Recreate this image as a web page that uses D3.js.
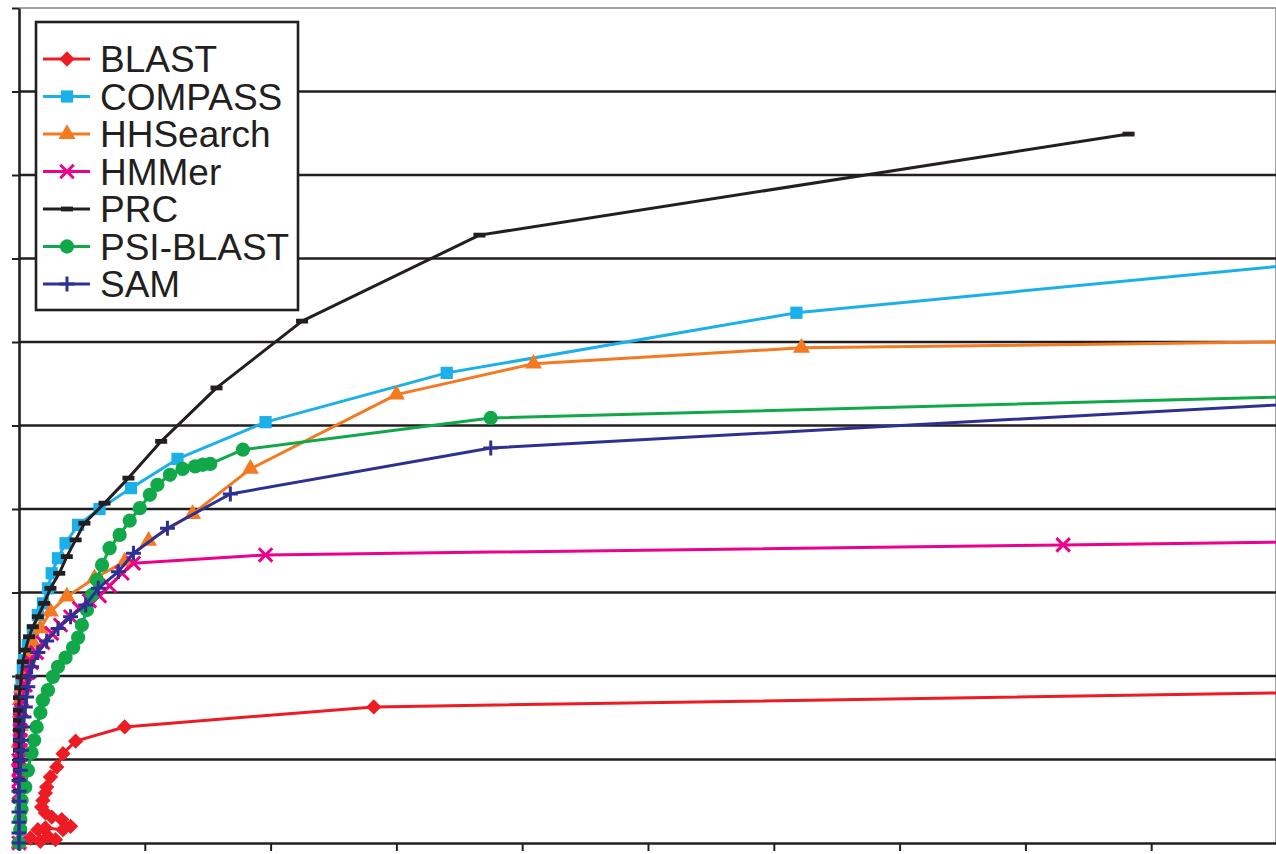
<!DOCTYPE html>
<html>
<head>
<meta charset="utf-8">
<script src="https://cdn.jsdelivr.net/npm/d3@7"></script>
<style>
  html, body { margin: 0; padding: 0; background: #fff; }
  svg { display: block; font-family: "Liberation Sans", Arial, Helvetica, sans-serif; }
</style>
</head>
<body>
<svg id="chart"></svg>
<script>
// series values, [x, y] in axis units (no tick labels are printed on the chart)
const blast = [
  [0, 0.02], [0.09, 0.06], [0.17, 0.02], [0.29, 0.04], [0.23, 0.08], [0.15, 0.16],
  [0.21, 0.18], [0.35, 0.16], [0.41, 0.2], [0.34, 0.28], [0.26, 0.31], [0.21, 0.36],
  [0.18, 0.43], [0.19, 0.51], [0.21, 0.6], [0.22, 0.67], [0.25, 0.79], [0.3, 0.91],
  [0.35, 1.07], [0.45, 1.22], [0.84, 1.39], [2.82, 1.63], [11.0, 1.82]
];
const compass = [
  [0, 0], [0, 0.99], [0, 1.2], [0, 1.4], [0, 1.56], [0.01, 1.71], [0.01, 1.83],
  [0.02, 1.95], [0.03, 2.07], [0.04, 2.19], [0.07, 2.37], [0.11, 2.55],
  [0.15, 2.73], [0.19, 2.87], [0.23, 3.05], [0.26, 3.23], [0.31, 3.41], [0.37, 3.59],
  [0.47, 3.81], [0.64, 4.0], [0.89, 4.25], [1.26, 4.6], [1.96, 5.04], [3.4, 5.63],
  [6.18, 6.35], [11.0, 7.05]
];
const hhsearch = [
  [0, 0], [0, 0.99], [0, 1.2], [0.01, 1.4], [0.01, 1.56], [0.01, 1.71], [0.02, 1.86],
  [0.04, 2.01], [0.07, 2.22], [0.11, 2.4], [0.17, 2.57],
  [0.25, 2.77], [0.38, 2.95], [0.6, 3.17], [0.84, 3.37], [1.03, 3.62], [1.38, 3.94],
  [1.84, 4.48], [3.0, 5.37], [4.09, 5.74], [6.22, 5.93], [11.0, 6.02]
];
const hmmer = [
  [0, 0], [0, 0.6], [0, 0.75], [0, 0.87], [0, 0.99], [0.01, 1.11], [0.01, 1.23],
  [0.01, 1.35], [0.01, 1.47], [0.02, 1.59], [0.02, 1.71], [0.05, 1.89], [0.07, 2.04],
  [0.1, 2.16], [0.14, 2.28], [0.19, 2.4], [0.26, 2.51], [0.33, 2.61], [0.41, 2.71],
  [0.48, 2.81], [0.56, 2.9], [0.64, 2.96], [0.72, 3.08], [0.82, 3.23], [0.91, 3.35],
  [1.96, 3.45], [8.3, 3.57], [11.0, 3.62]
];
const prc = [
  [0, 0], [0, 0.5], [0, 0.62], [0, 0.75], [0, 0.87], [0, 0.99], [0, 1.11], [0, 1.23],
  [0, 1.35], [0, 1.47], [0, 1.59], [0, 1.74], [0.01, 1.86], [0.02, 1.99],
  [0.03, 2.17], [0.05, 2.31], [0.08, 2.47], [0.11, 2.59], [0.15, 2.71], [0.2, 2.87],
  [0.25, 3.05], [0.32, 3.23], [0.38, 3.43], [0.45, 3.63], [0.52, 3.83], [0.68, 4.07],
  [0.87, 4.37], [1.13, 4.81], [1.57, 5.45], [2.25, 6.25], [3.66, 7.28], [8.82, 8.49]
];
const psiBlast = [
  [0, 0], [0.01, 0.16], [0.01, 0.28], [0.02, 0.4], [0.02, 0.51], [0.05, 0.67], [0.07, 0.87],
  [0.1, 1.08], [0.12, 1.23], [0.14, 1.39], [0.17, 1.56], [0.19, 1.71], [0.23, 1.83],
  [0.27, 1.99], [0.31, 2.11], [0.37, 2.22], [0.43, 2.34], [0.47, 2.46], [0.5, 2.61],
  [0.54, 2.79], [0.58, 2.97], [0.62, 3.15], [0.66, 3.33], [0.72, 3.53], [0.8, 3.69],
  [0.88, 3.86], [0.96, 4.01], [1.04, 4.17], [1.1, 4.29], [1.2, 4.41], [1.3, 4.48],
  [1.4, 4.51], [1.46, 4.53], [1.52, 4.54], [1.78, 4.71], [3.75, 5.09], [11.0, 5.38]
];
const sam = [
  [0, 0], [0, 0.12], [0, 0.25], [0, 0.37], [0, 0.5], [0, 0.62], [0, 0.75], [0.01, 0.87],
  [0.01, 0.99], [0.02, 1.11], [0.02, 1.23], [0.03, 1.39], [0.04, 1.51], [0.05, 1.63],
  [0.06, 1.75], [0.07, 1.87], [0.08, 1.99], [0.1, 2.11], [0.15, 2.28], [0.22, 2.42],
  [0.31, 2.57], [0.41, 2.71], [0.53, 2.85], [0.63, 3.05], [0.79, 3.25], [0.91, 3.47],
  [1.18, 3.77], [1.68, 4.18], [3.75, 4.73], [11.0, 5.33]
];

const seriesNames = ["BLAST", "COMPASS", "HHSearch", "HMMer", "PRC", "PSI-BLAST", "SAM"];
const xTicks = [0, 1, 2, 3, 4, 5, 6, 7, 8, 9, 10];
const yTicks = [0, 1, 2, 3, 4, 5, 6, 7, 8, 9, 10];

const series = [
  { name: "BLAST", values: blast, color: "#ed1c24", marker: "diamond" },
  { name: "COMPASS", values: compass, color: "#1cb0ea", marker: "square" },
  { name: "HHSearch", values: hhsearch, color: "#f47920", marker: "triangle" },
  { name: "HMMer", values: hmmer, color: "#ec008c", marker: "times" },
  { name: "PRC", values: prc, color: "#231f20", marker: "dash" },
  { name: "PSI-BLAST", values: psiBlast, color: "#11a84a", marker: "circle" },
  { name: "SAM", values: sam, color: "#2e3192", marker: "plus" },
];

const width = 1276, height = 854;
const margin = { top: 8, right: -1, bottom: 11, left: 19 };
const innerW = width - margin.left - margin.right;
const innerH = height - margin.top - margin.bottom;

const svg = d3.select("#chart").attr("width", width).attr("height", height);

const x = d3.scaleLinear().domain([0, 10]).range([0, innerW]);
const y = d3.scaleLinear().domain([0, 10]).range([innerH, 0]);

const g = svg.append("g").attr("transform", `translate(${margin.left},${margin.top})`);

svg.append("defs").append("clipPath").attr("id", "plot-clip")
  .append("rect").attr("x", -8).attr("y", -8).attr("width", innerW + 8).attr("height", innerH + 16);

// frame (top and right, light grey)
g.append("path")
  .attr("d", `M0,${y(10)}H${x(10) - 1}V${y(0)}`)
  .attr("fill", "none").attr("stroke", "#a0a0a0").attr("stroke-width", 2);

// horizontal grid lines
g.append("g").selectAll("line")
  .data(yTicks.filter(d => d > 0 && d < 10))
  .join("line")
  .attr("x1", 0).attr("x2", innerW)
  .attr("y1", d => y(d)).attr("y2", d => y(d))
  .attr("stroke", "#231f20").attr("stroke-width", 2.6);

// axes, tick marks only
const yAxis = g.append("g")
  .call(d3.axisLeft(y).tickValues(yTicks).tickSize(7).tickSizeOuter(0).tickFormat(""));
const xAxis = g.append("g").attr("transform", `translate(0,${innerH})`)
  .call(d3.axisBottom(x).tickValues(xTicks).tickSize(8).tickSizeOuter(0).tickFormat(""));
[yAxis, xAxis].forEach(a => {
  a.select(".domain").attr("stroke", "#231f20").attr("stroke-width", 2.6);
  a.selectAll(".tick line").attr("stroke", "#231f20").attr("stroke-width", 2);
});

// marker shapes
const symbolFor = {
  diamond: d3.symbol(d3.symbolDiamond2, 150),
  square: d3.symbol(d3.symbolSquare, 150),
  triangle: d3.symbol(d3.symbolTriangle, 125),
  times: d3.symbol(d3.symbolTimes, 120),
  plus: d3.symbol(d3.symbolPlus, 75),
  circle: d3.symbol(d3.symbolCircle, 160),
};
function drawMarker(sel, s) {
  if (s.marker === "dash") {
    sel.append("rect").attr("x", -6).attr("y", -2.4).attr("width", 12).attr("height", 4.8)
      .attr("fill", s.color);
  } else if (s.marker === "times" || s.marker === "plus") {
    sel.append("path").attr("d", symbolFor[s.marker]())
      .attr("fill", "none").attr("stroke", s.color).attr("stroke-width", 3);
  } else {
    sel.append("path").attr("d", symbolFor[s.marker]()).attr("fill", s.color);
  }
}

const line = d3.line().x(d => x(d[0])).y(d => y(d[1]));

const plot = g.append("g").attr("clip-path", "url(#plot-clip)");
series.forEach(s => {
  const sg = plot.append("g");
  sg.append("path")
    .datum(s.values)
    .attr("d", line)
    .attr("fill", "none")
    .attr("stroke", s.color)
    .attr("stroke-width", 3)
    .attr("stroke-linejoin", "round");
  sg.selectAll("g.pt")
    .data(s.values.filter(d => d[0] <= 10))
    .join("g")
    .attr("class", "pt")
    .attr("transform", d => `translate(${x(d[0])},${y(d[1])})`)
    .each(function () { drawMarker(d3.select(this), s); });
});

// legend
const legend = svg.append("g").attr("transform", "translate(36,22)");
legend.append("rect")
  .attr("width", 262).attr("height", 288)
  .attr("fill", "#fff").attr("stroke", "#231f20").attr("stroke-width", 2.6);
const rowY = d3.scalePoint().domain(seriesNames).range([37, 262]);
const rows = legend.selectAll("g.row")
  .data(series)
  .join("g")
  .attr("class", "row")
  .attr("transform", d => `translate(0,${rowY(d.name)})`);
rows.append("line")
  .attr("x1", 7).attr("x2", 54)
  .attr("stroke", d => d.color).attr("stroke-width", 3);
rows.append("g").attr("transform", "translate(31,0)")
  .each(function (d) { drawMarker(d3.select(this), d); });
rows.append("text")
  .attr("x", 64).attr("dy", "0.36em")
  .attr("font-size", 37).attr("fill", "#231f20")
  .text(d => d.name);
</script>
</body>
</html>
